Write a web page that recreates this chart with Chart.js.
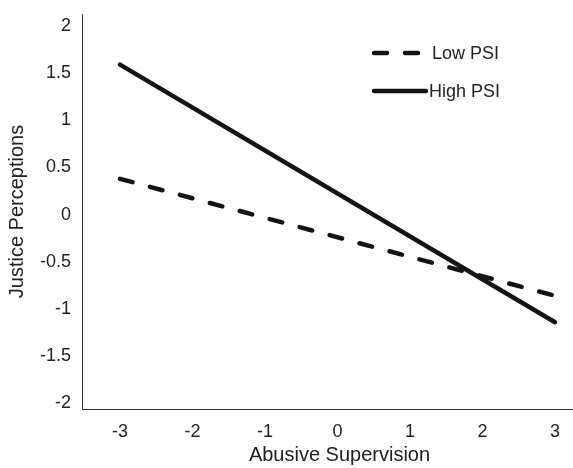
<!DOCTYPE html>
<html>
<head>
<meta charset="utf-8">
<script src="https://cdn.jsdelivr.net/npm/chart.js@4/dist/chart.umd.min.js"></script>
<style>
  html, body { margin: 0; padding: 0; background: #fff; }
  #wrap { width: 573px; height: 468px; }
</style>
</head>
<body>
<div id="wrap"><canvas id="chart" width="573" height="468"></canvas></div>
<script>
// ==================== DATA ====================
const xValues = [-3, 3];
const lowPSI = [0.38, -0.86];
const highPSI = [1.59, -1.14];
const seriesNames = ["Low PSI", "High PSI"];
const xTicks = [-3, -2, -1, 0, 1, 2, 3];
const yTicks = [-2, -1.5, -1, -0.5, 0, 0.5, 1, 1.5, 2];

const FONT = "'Liberation Sans', Arial, sans-serif";
const INK = "#141414";
const LINE_W = 4.5;
const DASH = [13, 18];

function toPoints(values) {
  return values.map((v, i) => ({ x: xValues[i], y: v }));
}

// legend drawn inside the plot, top right
const insideLegend = {
  id: "insideLegend",
  afterDraw(chart) {
    const ctx = chart.ctx;
    const rows = [
      { label: seriesNames[0], dash: DASH, y: 53, x1: 374, x2: 420, tx: 432 },
      { label: seriesNames[1], dash: [], y: 91, x1: 374, x2: 426, tx: 429 },
    ];
    ctx.save();
    rows.forEach((r) => {
      ctx.beginPath();
      ctx.setLineDash(r.dash);
      ctx.lineCap = "round";
      ctx.lineWidth = LINE_W;
      ctx.strokeStyle = INK;
      ctx.moveTo(r.x1, r.y);
      ctx.lineTo(r.x2, r.y);
      ctx.stroke();
      ctx.setLineDash([]);
      ctx.fillStyle = "#222";
      ctx.font = "18px " + FONT;
      ctx.textBaseline = "middle";
      ctx.textAlign = "left";
      ctx.fillText(r.label, r.tx, r.y + 1);
    });

    // x axis title, centred under the 0 tick
    const xs = chart.scales.x;
    ctx.font = "20px " + FONT;
    ctx.textAlign = "center";
    ctx.textBaseline = "middle";
    ctx.fillText("Abusive Supervision", xs.getPixelForValue(0) + 2, 455);
    ctx.restore();
  },
};

new Chart(document.getElementById("chart"), {
  type: "line",
  data: {
    datasets: [
      {
        label: seriesNames[0],
        data: toPoints(lowPSI),
        borderColor: INK,
        borderWidth: LINE_W,
        borderDash: DASH,
        borderCapStyle: "round",
        pointRadius: 0,
        fill: false,
      },
      {
        label: seriesNames[1],
        data: toPoints(highPSI),
        borderColor: INK,
        borderWidth: LINE_W,
        borderCapStyle: "round",
        pointRadius: 0,
        fill: false,
      },
    ],
  },
  options: {
    responsive: false,
    animation: false,
    devicePixelRatio: 1,
    layout: { padding: { top: 14, right: 0, left: 0, bottom: 0 } },
    plugins: {
      legend: { display: false },
      tooltip: { enabled: false },
    },
    scales: {
      x: {
        type: "linear",
        min: -3.524,
        max: 3.248,
        afterBuildTicks: (scale) => {
          scale.ticks = xTicks.map((v) => ({ value: v }));
        },
        afterFit: (scale) => {
          scale.height = 59;
        },
        grid: { display: false, drawTicks: false },
        border: { display: true, color: "#333", width: 1 },
        ticks: {
          padding: 12,
          color: "#222",
          font: { family: FONT, size: 18 },
          maxRotation: 0,
          autoSkip: false,
          callback: (v) => String(v),
        },
      },
      y: {
        type: "linear",
        min: -2.06,
        max: 2.127,
        afterBuildTicks: (scale) => {
          scale.ticks = yTicks.map((v) => ({ value: v }));
        },
        afterFit: (scale) => {
          scale.width = 82;
        },
        // invisible tick length gives the label gap without extra top padding
        grid: { display: false, drawTicks: true, tickLength: 11 },
        border: { display: true, color: "#333", width: 1 },
        ticks: {
          padding: 0,
          color: "#222",
          font: { family: FONT, size: 18 },
          autoSkip: false,
          callback: (v) => String(v),
        },
        title: {
          display: true,
          text: "Justice Perceptions",
          color: "#222",
          font: { family: FONT, size: 20 },
          padding: { top: 5, bottom: 0 },
        },
      },
    },
  },
  plugins: [insideLegend],
});
</script>
</body>
</html>
